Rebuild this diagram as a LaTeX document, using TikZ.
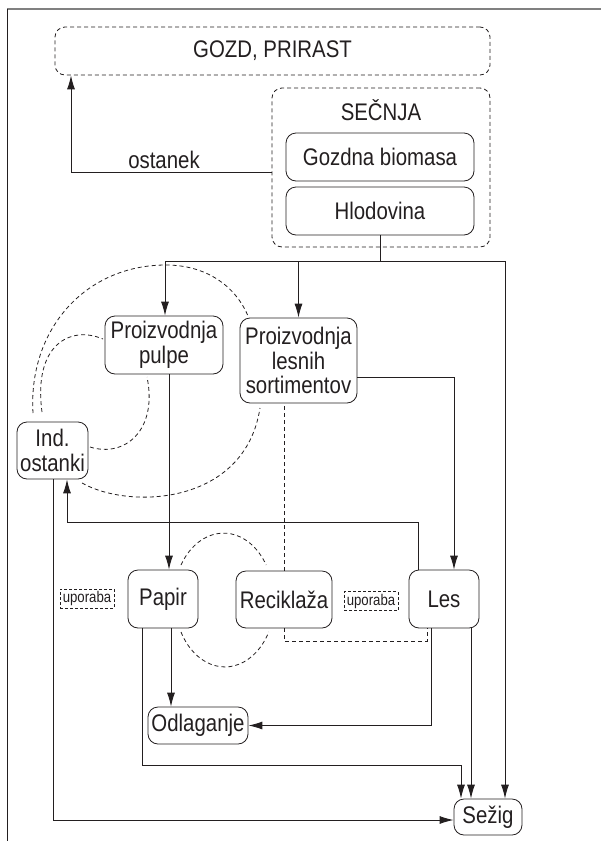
\documentclass[tikz,border=0pt]{standalone}
\usepackage{fontspec}
\setmainfont{Liberation Sans}[FakeStretch=0.85]
\usetikzlibrary{arrows.meta}
\definecolor{ink}{HTML}{231F20}
\tikzset{
  box/.style={draw=ink, line width=0.8pt, rounded corners=10pt, align=center, inner sep=0pt, text=ink, font=\fontsize{24}{24.5}\selectfont},
  dbox/.style={box, dash pattern=on 4pt off 3pt},
  ubox/.style={draw=ink, line width=0.7pt, dash pattern=on 3pt off 2pt, inner sep=0pt, text=ink, font=\fontsize{15.5}{17}\selectfont, minimum width=54pt, minimum height=19pt},
  conn/.style={draw=ink, line width=0.9pt},
  arr/.style={conn, -{Latex[length=14pt,width=8pt]}},
  dline/.style={draw=ink, line width=0.8pt, dash pattern=on 4pt off 3pt},
  lbl/.style={text=ink, inner sep=0pt, font=\fontsize{24}{24.5}\selectfont}
}
\begin{document}
\begin{tikzpicture}[x=1pt,y=-1pt]
\useasboundingbox (0,0) rectangle (601,841);
% frame
\draw[gray, line width=1.2pt] (7,9) -- (601,9);
\draw[ink, line width=1pt] (7,9) -- (7,841);
% nodes
\node[dbox, minimum width=435, minimum height=48] (gozd) at (272.5,51) {GOZD, PRIRAST};
\node[dbox, minimum width=218, minimum height=159] (secnja) at (381,167.5) {};
\node[lbl] (secnjalbl) at (381,110) {SEČNJA};
\node[box, minimum width=188, minimum height=48] (gozdna) at (380,157) {Gozdna biomasa};
\node[box, minimum width=188, minimum height=48] (hlod) at (380,211) {Hlodovina};
\node[box, minimum width=118, minimum height=58] (pulpe) at (164,345) {Proizvodnja\\pulpe};
\node[box, minimum width=117, minimum height=85] (lesnih) at (298.5,360.5) {Proizvodnja\\lesnih\\sortimentov};
\node[box, minimum width=71, minimum height=57] (ind) at (52.5,450.5) {Ind.\\ostanki};
\node[box, minimum width=70, minimum height=58] (papir) at (163,599) {Papir};
\node[box, minimum width=96, minimum height=57] (recik) at (284,599.5) {Reciklaža};
\node[box, minimum width=70, minimum height=58] (les) at (444,599) {Les};
\node[ubox] (up1) at (87,598.5) {uporaba};
\node[ubox] (up2) at (371,601) {uporaba};
\node[box, minimum width=100, minimum height=37] (odl) at (198,725.5) {Odlaganje};
\node[box, minimum width=68, minimum height=36] (sezig) at (488,817) {Sežig};
\node[lbl] (ost) at (164,160) {ostanek};
% ostanek
\draw[arr] (secnja.west |- 0,172) -| (gozd.south -| 71,0);
% from Hlodovina
\coordinate (jl) at (165,261);
\coordinate (jr) at (505,261);
\draw[conn] (jl) -- (jr);
\draw[conn] (hlod.south) -- (hlod.south |- jl);
\draw[arr] (jl) -- (pulpe.north -| jl);
\draw[arr] (lesnih.north |- jl) -- (lesnih.north);
\draw[arr] (jr) -- (sezig.north -| jr);
% solid connectors
\draw[arr] (lesnih.east |- 0,377) -| (les.north -| 454,0);
\draw[arr] (pulpe.south -| 169,0) -- (papir.north -| 169,0);
\coordinate (lb) at (418,522);
\draw[arr] (les.north -| lb) -- (lb) -| (ind.south -| 67,0);
\draw[arr] (ind.south -| 53,0) |- (sezig.west |- 0,820);
\draw[arr] (papir.south -| 171,0) -- (odl.north -| 171,0);
\coordinate (pb) at (461,765);
\draw[arr] (papir.south -| 142,0) |- (pb) -- (sezig.north -| pb);
\draw[arr] (les.south -| 431,0) |- (odl.east);
\draw[arr] (les.south -| 471,0) -- (sezig.north -| 471,0);
% dashed connectors
\draw[dline] (recik.north) -- (lesnih.south -| recik.north);
\coordinate (rb) at (427,641);
\draw[dline] (recik.south) |- (rb) -- (les.south -| rb);
\draw[dline] (181,565) arc[start angle=211.6, end angle=328.4, x radius=50, y radius=67];
\draw[dline] (181,632) arc[start angle=151.4, end angle=28.6, x radius=50, y radius=67];
\draw[dline] (33,413) .. controls (28,330) and (85,265) .. (166,265) .. controls (205,265) and (235,285) .. (248,316);
\draw[dline] (42,412) .. controls (33,345) and (70,325) .. (103,339);
\draw[dline] (90,447) .. controls (125,458) and (158,430) .. (147,377);
\draw[dline] (82,483) .. controls (130,510) and (245,505) .. (260,408);
\end{tikzpicture}
\end{document}
